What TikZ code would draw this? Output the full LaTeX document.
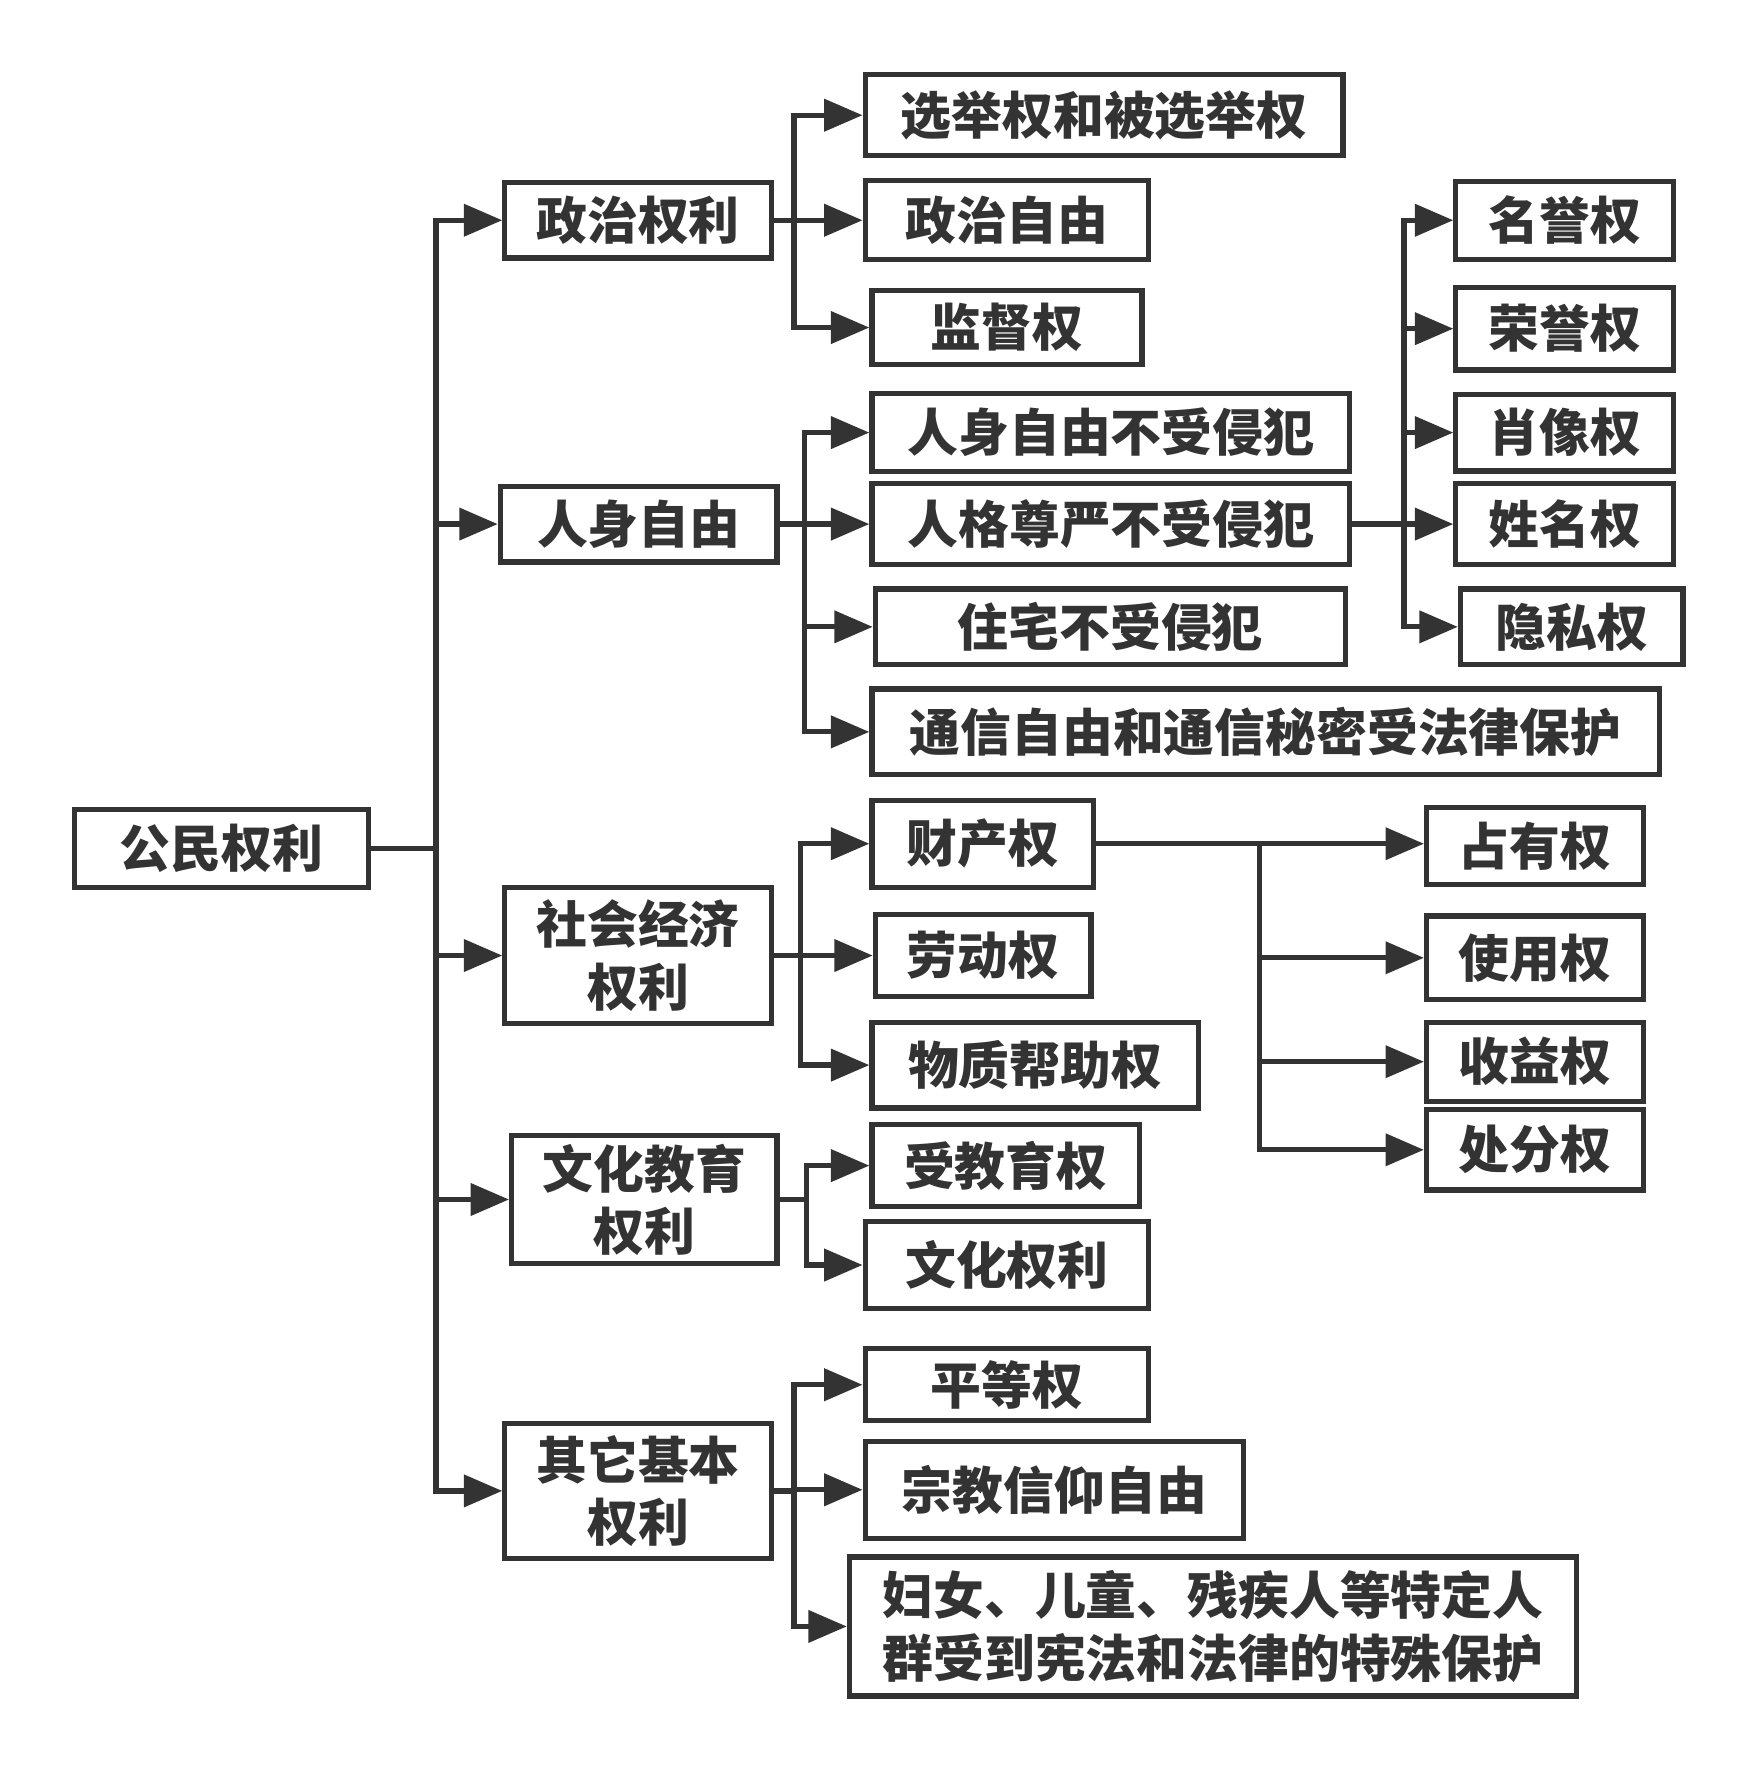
\documentclass[tikz,border=0pt]{standalone}
\usepackage{fontspec}
\setmainfont{Noto Sans CJK SC}
\usepackage{tikz}
\usetikzlibrary{arrows.meta,positioning}

\definecolor{ink}{HTML}{333333}
\tikzset{
  >={Triangle[length=17pt,width=14pt]},
  box/.style={draw=ink, line width=2.3pt, inner sep=0pt, align=center,
    text=ink, font=\fontsize{22.5pt}{27.5pt}\selectfont\bfseries},
  link/.style={draw=ink, line width=2.3pt},
}

\begin{document}
\begin{tikzpicture}[x=0.5pt,y=-0.5pt]
            \useasboundingbox (0,0) rectangle (1556,1568);
            % root and first level
            \node[box, minimum width=130pt, minimum height=34.5pt] (root) at (196,751) {公民权利};
            \node[box, minimum width=118pt, minimum height=33.5pt] (pol) at (565,195) {政治权利};
            \node[box, minimum width=122.5pt, minimum height=33.5pt] (per) at (565.5,464) {人身自由};
            \node[box, minimum width=118pt, minimum height=60pt] (eco) at (565,846) {社会经济\\权利};
            \node[box, minimum width=117.5pt, minimum height=56.5pt] (cul) at (570.5,1062) {文化教育\\权利};
            \node[box, minimum width=118pt, minimum height=60pt] (oth) at (565,1320) {其它基本\\权利};
            
            % second level
            \node[box, minimum width=211.5pt, minimum height=36pt] (vote) at (977.5,102) {选举权和被选举权};
            \node[box, minimum width=125.5pt, minimum height=35pt] (polfree) at (891.5,195) {政治自由};
            \node[box, minimum width=119.5pt, minimum height=32.5pt] (watch) at (891.5,290) {监督权};
            \node[box, minimum width=211.5pt, minimum height=34.5pt] (body) at (983.5,383) {人身自由不受侵犯};
            \node[box, minimum width=211.5pt, minimum height=36pt] (dign) at (983.5,464) {人格尊严不受侵犯};
            \node[box, minimum width=208pt, minimum height=33.5pt] (home) at (983,555) {住宅不受侵犯};
            \node[box, minimum width=348.5pt, minimum height=38pt] (mail) at (1120.5,648) {通信自由和通信秘密受法律保护};
            \node[box, minimum width=98pt, minimum height=38.5pt] (prop) at (870,747) {财产权};
            \node[box, minimum width=95.5pt, minimum height=36pt] (work) at (870.5,846) {劳动权};
            \node[box, minimum width=144.5pt, minimum height=38pt] (aid) at (916.5,943) {物质帮助权};
            \node[box, minimum width=118.5pt, minimum height=36.5pt] (edu) at (890.5,1032) {受教育权};
            \node[box, minimum width=125.5pt, minimum height=38.5pt] (art) at (891.5,1120) {文化权利};
            \node[box, minimum width=125.5pt, minimum height=32pt] (equal) at (891.5,1226) {平等权};
            \node[box, minimum width=167.5pt, minimum height=43pt] (faith) at (933.5,1319) {宗教信仰自由};
            \node[box, minimum width=322pt, minimum height=61.5pt] (group) at (1074,1440) {妇女、儿童、残疾人等特定人\\群受到宪法和法律的特殊保护};
            
            % third level
            \node[box, minimum width=96.5pt, minimum height=34.5pt] (fame) at (1385.5,195) {名誉权};
            \node[box, minimum width=96.5pt, minimum height=36.5pt] (honor) at (1385.5,291) {荣誉权};
            \node[box, minimum width=96.5pt, minimum height=34pt] (image) at (1385.5,383) {肖像权};
            \node[box, minimum width=96.5pt, minimum height=36pt] (name) at (1385.5,464) {姓名权};
            \node[box, minimum width=98.5pt, minimum height=33.5pt] (priv) at (1391.5,555) {隐私权};
            \node[box, minimum width=96pt, minimum height=34pt] (hold) at (1359,749) {占有权};
            \node[box, minimum width=96pt, minimum height=37pt] (use) at (1359,848) {使用权};
            \node[box, minimum width=96pt, minimum height=35pt] (gain) at (1359,940) {收益权};
            \node[box, minimum width=96pt, minimum height=35.5pt] (sell) at (1359,1018) {处分权};
            
            % junctions
            \coordinate (trunk) at (386,751);
            \coordinate (jpol) at (703,195);
            \coordinate (jper) at (712,464);
            \coordinate (jeco) at (709,846);
            \coordinate (jcul) at (714,1062);
            \coordinate (joth) at (703,1320);
            \coordinate (jdign) at (1243,464);
            \coordinate (jprop) at (1115,747);
            
            \draw[link] (root) -- (trunk);
            \foreach \n in {pol,per,eco,cul,oth}
              \draw[link,->] (trunk) |- (\n);
            
            \draw[link] (pol) -- (jpol);
            \foreach \n in {vote,polfree,watch}
              \draw[link,->] (jpol) |- (\n);
            
            \draw[link] (per) -- (jper);
            \foreach \n in {body,dign,home,mail}
              \draw[link,->] (jper) |- (\n);
            
            \draw[link] (dign) -- (jdign);
            \foreach \n in {fame,honor,image,name,priv}
              \draw[link,->] (jdign) |- (\n);
            
            \draw[link] (eco) -- (jeco);
            \foreach \n in {prop,work,aid}
              \draw[link,->] (jeco) |- (\n);
            
            \draw[link,->] (prop) -- (prop -| hold.west);
            \foreach \n in {use,gain,sell}
              \draw[link,->] (jprop) |- (\n);
            
            \draw[link] (cul) -- (jcul);
            \foreach \n in {edu,art}
              \draw[link,->] (jcul) |- (\n);
            
            \draw[link] (oth) -- (joth);
            \foreach \n in {equal,faith,group}
              \draw[link,->] (joth) |- (\n);
        \end{tikzpicture}
\end{document}
